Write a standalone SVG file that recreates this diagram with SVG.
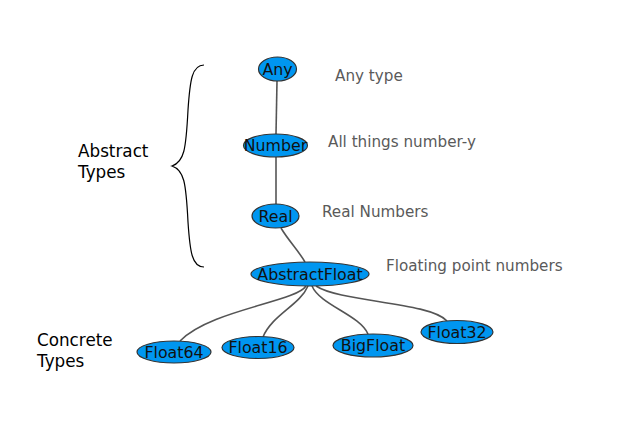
<svg xmlns="http://www.w3.org/2000/svg" width="631" height="421" viewBox="0 0 631 421">
<style>
.node ellipse{fill:#0096f0;stroke:#333;stroke-width:1.2}
.node text{font-family:"DejaVu Sans",sans-serif;font-size:15.8px;fill:#111;text-anchor:middle}
.edge{fill:none;stroke:#555;stroke-width:1.6}
.note{font-family:"DejaVu Sans",sans-serif;font-size:15.2px;fill:#5a5a5a}
.cat{font-family:"DejaVu Sans",sans-serif;font-size:16.8px;fill:#000}
</style>
<rect width="631" height="421" fill="#fff"/>
<g id="connectors">
<path class="edge" d="M277,81 L276,134"/>
<path class="edge" d="M276,157 L276,204"/>
<path class="edge" d="M281,228 C288,240 298,250 305,262"/>
<path class="edge" d="M306,286 C296,302 210,310 180,341"/>
<path class="edge" d="M308,286 C300,305 272,315 263,337"/>
<path class="edge" d="M312,286 C320,305 360,315 368,334"/>
<path class="edge" d="M316,286 C340,302 430,302 447,321"/>
</g>
<g id="brace">
<path d="M204,65 C192,65 190,80 188,110 C186,150 184,162 172,166 C184,170 186,182 188,222 C190,252 192,267 204,267" fill="none" stroke="#000" stroke-width="1.2"/>
</g>
<g id="node-any" class="node"><ellipse cx="277.5" cy="69" rx="19" ry="12"/><text x="277.5" y="74.5">Any</text></g>
<g id="node-number" class="node"><ellipse cx="275.5" cy="145.5" rx="32" ry="11.5"/><text x="275.5" y="151">Number</text></g>
<g id="node-real" class="node"><ellipse cx="275.5" cy="216" rx="23.5" ry="12"/><text x="275.5" y="221.5">Real</text></g>
<g id="node-abstractfloat" class="node"><ellipse cx="310" cy="274" rx="59" ry="12"/><text x="310" y="279.5">AbstractFloat</text></g>
<g id="node-float64" class="node"><ellipse cx="174" cy="352" rx="37" ry="11"/><text x="174" y="357.5">Float64</text></g>
<g id="node-float16" class="node"><ellipse cx="258" cy="347.5" rx="36" ry="11"/><text x="258" y="353">Float16</text></g>
<g id="node-bigfloat" class="node"><ellipse cx="373" cy="345.5" rx="40" ry="11.5"/><text x="373" y="351">BigFloat</text></g>
<g id="node-float32" class="node"><ellipse cx="457" cy="332" rx="36" ry="11.5"/><text x="457" y="337.5">Float32</text></g>
<g id="labels">
<text class="note" x="335" y="81">Any type</text>
<text class="note" x="328" y="147">All things number-y</text>
<text class="note" x="322" y="217">Real Numbers</text>
<text class="note" x="386" y="271">Floating point numbers</text>
<text class="cat" x="78" y="157">Abstract</text>
<text class="cat" x="78" y="178">Types</text>
<text class="cat" x="37" y="346">Concrete</text>
<text class="cat" x="37" y="367">Types</text>
</g>
</svg>
